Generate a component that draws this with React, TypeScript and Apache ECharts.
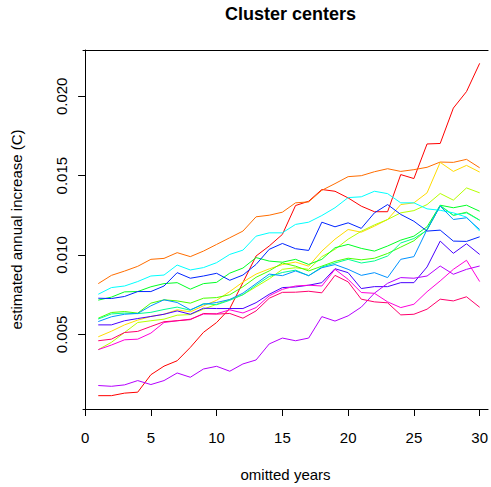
import React, { useEffect, useRef } from "react";
import * as echarts from "echarts";

const years = [1, 2, 3, 4, 5, 6, 7, 8, 9, 10, 11, 12, 13, 14, 15, 16, 17, 18, 19, 20, 21, 22, 23, 24, 25, 26, 27, 28, 29, 30];

const red = [0.00114, 0.00114, 0.0013, 0.00136, 0.00246, 0.003, 0.00334, 0.00418, 0.00513, 0.00575, 0.00663, 0.00827, 0.00994, 0.01057, 0.0113, 0.01312, 0.01339, 0.01413, 0.01402, 0.0136, 0.01308, 0.01273, 0.01273, 0.01507, 0.01482, 0.017, 0.01703, 0.01926, 0.0203, 0.02208];
const orange = [0.0082, 0.00872, 0.00899, 0.00929, 0.00973, 0.00979, 0.01015, 0.0099, 0.01025, 0.01067, 0.01109, 0.01151, 0.01241, 0.01251, 0.0127, 0.01329, 0.01335, 0.01408, 0.0145, 0.01494, 0.015, 0.01525, 0.01544, 0.01527, 0.01538, 0.01553, 0.01586, 0.01584, 0.01603, 0.0155];
const yellow = [0.00485, 0.0052, 0.0056, 0.0059, 0.00613, 0.00627, 0.00655, 0.00642, 0.0068, 0.00715, 0.0077, 0.0083, 0.0088, 0.00913, 0.0094, 0.00956, 0.0093, 0.01025, 0.011, 0.01161, 0.01144, 0.01182, 0.01224, 0.01318, 0.01329, 0.01392, 0.01584, 0.01527, 0.01565, 0.01523];
const yellowGreen = [0.00404, 0.0045, 0.00512, 0.00575, 0.00586, 0.00596, 0.00621, 0.00625, 0.00659, 0.0069, 0.0072, 0.0075, 0.008, 0.0085, 0.0091, 0.0092, 0.0091, 0.0099, 0.01036, 0.011, 0.0115, 0.0119, 0.01224, 0.01266, 0.0128, 0.01318, 0.01388, 0.01346, 0.01423, 0.01392];
const lime = [0.00602, 0.00638, 0.00644, 0.00634, 0.00697, 0.00718, 0.00711, 0.00697, 0.00728, 0.00732, 0.0075, 0.008, 0.0086, 0.009, 0.0095, 0.0093, 0.009, 0.0093, 0.0096, 0.0098, 0.0097, 0.0098, 0.0101, 0.0105, 0.0109, 0.0116, 0.0131, 0.0125, 0.0127, 0.0122];
const green = [0.00716, 0.00735, 0.00768, 0.0077, 0.008, 0.0082, 0.00826, 0.00785, 0.0082, 0.00828, 0.00886, 0.00918, 0.00984, 0.00962, 0.00955, 0.00973, 0.00941, 0.00973, 0.01046, 0.01067, 0.01042, 0.01025, 0.01057, 0.01094, 0.01119, 0.01178, 0.01314, 0.01298, 0.01314, 0.01276];
const spring = [0.00597, 0.00629, 0.00634, 0.00631, 0.00639, 0.00657, 0.00672, 0.00652, 0.00694, 0.00687, 0.00715, 0.0075, 0.0081, 0.00865, 0.0089, 0.00905, 0.0087, 0.00925, 0.0095, 0.00973, 0.0095, 0.00963, 0.00994, 0.01076, 0.01104, 0.01156, 0.01313, 0.01251, 0.01266, 0.01219];
const cyan = [0.00753, 0.00795, 0.00805, 0.00833, 0.00868, 0.00874, 0.00937, 0.00906, 0.00921, 0.00952, 0.01004, 0.01031, 0.01119, 0.0114, 0.0114, 0.01193, 0.01207, 0.01249, 0.01298, 0.01362, 0.01367, 0.01402, 0.01387, 0.01329, 0.01329, 0.01291, 0.01282, 0.01266, 0.01239, 0.01151];
const azure = [0.00581, 0.00611, 0.00627, 0.00632, 0.0068, 0.00718, 0.00701, 0.00655, 0.0069, 0.00701, 0.0072, 0.0076, 0.0082, 0.0088, 0.0087, 0.009, 0.0087, 0.0092, 0.0094, 0.0091, 0.00872, 0.00889, 0.00858, 0.00973, 0.0099, 0.01161, 0.01308, 0.01224, 0.01235, 0.01161];
const blue = [0.00728, 0.00726, 0.00739, 0.0077, 0.0077, 0.00805, 0.00889, 0.00854, 0.00868, 0.00885, 0.00841, 0.00874, 0.00941, 0.01036, 0.01073, 0.0104, 0.01029, 0.01207, 0.01178, 0.01203, 0.01168, 0.01266, 0.01318, 0.01256, 0.01213, 0.01151, 0.01157, 0.01088, 0.01086, 0.01115];
const violet = [0.0056, 0.0056, 0.00586, 0.006, 0.00613, 0.00627, 0.00648, 0.00627, 0.00665, 0.00663, 0.00663, 0.00663, 0.007, 0.00753, 0.00795, 0.00799, 0.0081, 0.00826, 0.00914, 0.00889, 0.00789, 0.00801, 0.00801, 0.00826, 0.00826, 0.00925, 0.01088, 0.01011, 0.01071, 0.01004];
const purple = [0.00178, 0.00173, 0.00182, 0.00209, 0.00184, 0.00209, 0.00257, 0.0023, 0.00282, 0.00299, 0.00268, 0.00314, 0.00339, 0.0044, 0.00477, 0.0046, 0.00477, 0.00612, 0.00584, 0.00617, 0.00672, 0.0076, 0.00822, 0.00858, 0.00854, 0.00868, 0.00931, 0.00879, 0.0091, 0.00931];
const magenta = [0.00404, 0.00433, 0.00466, 0.0047, 0.00508, 0.00575, 0.00586, 0.00596, 0.00628, 0.0063, 0.00655, 0.00635, 0.00669, 0.00743, 0.00784, 0.00805, 0.0081, 0.00805, 0.0091, 0.00847, 0.00764, 0.00759, 0.00705, 0.00669, 0.0069, 0.00769, 0.00837, 0.0091, 0.00967, 0.00833];
const pink = [0.0046, 0.0047, 0.00512, 0.00519, 0.0055, 0.0058, 0.00586, 0.00593, 0.00632, 0.00628, 0.00632, 0.00602, 0.00648, 0.00728, 0.00765, 0.00766, 0.00772, 0.00762, 0.00872, 0.00831, 0.00722, 0.00705, 0.00699, 0.00623, 0.00627, 0.00659, 0.00722, 0.00711, 0.00737, 0.00671];

const clusterSeries = [red, orange, yellow, yellowGreen, lime, green, spring, cyan, azure, blue, violet, purple, magenta, pink];
const clusterColors = ["#FF0000", "#FF6D00", "#FFDB00", "#B6FF00", "#49FF00", "#00FF24", "#00FF92", "#00FFFF", "#0092FF", "#0024FF", "#4900FF", "#B600FF", "#FF00DB", "#FF006D"];

const xTicks = [0, 5, 10, 15, 20, 25, 30];
const yTicks = [0.005, 0.01, 0.015, 0.02];

const FONT = '"Liberation Sans", Arial, Helvetica, sans-serif';

export default function App() {
  const ref = useRef<HTMLDivElement>(null);
  useEffect(() => {
    document.body.style.margin = "0";
    const chart = echarts.init(ref.current as HTMLDivElement, null, { renderer: "svg" });
    const boxLine = { show: true, lineStyle: { color: "#000000", width: 1 } };
    chart.setOption({
      animation: false,
      backgroundColor: "#FFFFFF",
      grid: {
        left: 83,
        right: 0,
        top: 50,
        bottom: 77.7,
        show: false,
      },
      xAxis: [
        {
          type: "value",
          position: "bottom",
          min: -0.16,
          max: 30.64,
          name: "omitted years",
          nameLocation: "middle",
          nameGap: 58,
          nameTextStyle: { fontFamily: FONT, fontSize: 15, color: "#000" },
          axisLine: boxLine,
          splitLine: { show: false },
          axisTick: { show: true, inside: false, length: 7, customValues: xTicks, lineStyle: { color: "#000", width: 1 } },
          axisLabel: { customValues: xTicks, margin: 21, fontFamily: FONT, fontSize: 15, color: "#000" },
        },
        {
          type: "value",
          position: "top",
          min: -0.16,
          max: 30.64,
          axisLine: boxLine,
          splitLine: { show: false },
          axisTick: { show: false },
          axisLabel: { show: false },
        },
      ],
      yAxis: {
        type: "value",
        min: 0.0003,
        max: 0.02292,
        name: "estimated annual increase (C)",
        nameLocation: "middle",
        nameGap: 59,
        nameRotate: 90,
        nameTextStyle: { fontFamily: FONT, fontSize: 15, color: "#000" },
        axisLine: boxLine,
        splitLine: { show: false },
        axisTick: { show: true, inside: false, length: 7, customValues: yTicks, lineStyle: { color: "#000", width: 1 } },
        axisLabel: {
          customValues: yTicks,
          rotate: 90,
          margin: 14,
          fontFamily: FONT,
          fontSize: 15,
          color: "#000",
          formatter: (v: number) => v.toFixed(3),
        },
      },
      graphic: [
        {
          type: "text",
          x: 290.5,
          y: 13.5,
          style: {
            text: "Cluster centers",
            font: 'bold 18px "Liberation Sans", Arial, sans-serif',
            fill: "#000",
            textAlign: "center",
            textVerticalAlign: "middle",
          },
        },
      ],
      series: clusterSeries.map((arr, i) => ({
        type: "line",
        xAxisIndex: 0,
        data: years.map((yr, j) => [yr, arr[j]]),
        showSymbol: false,
        symbol: "none",
        lineStyle: { width: 1, color: clusterColors[i] },
        itemStyle: { color: clusterColors[i] },
        silent: true,
      })),
    });
    return () => chart.dispose();
  }, []);
  return <div ref={ref} style={{ position: "absolute", left: 0, top: 0, width: 491, height: 487 }} />;
}
